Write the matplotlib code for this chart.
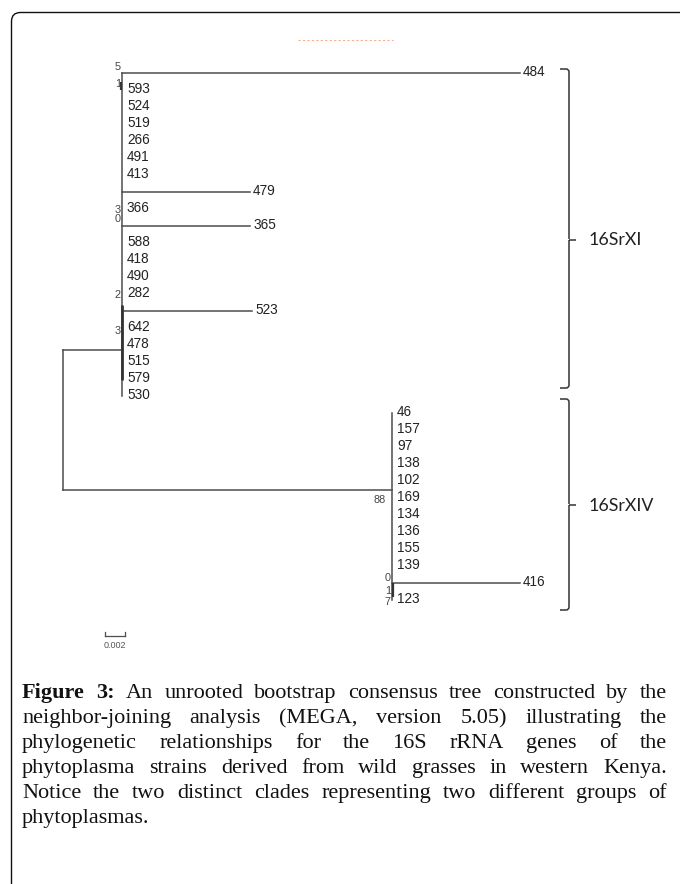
import matplotlib
matplotlib.use("Agg")
import matplotlib.pyplot as plt
from matplotlib.path import Path
from matplotlib.patches import PathPatch

# ---------------- data ----------------
xi_leaves = ['484', '593', '524', '519', '266', '491', '413', '479', '366', '365',
             '588', '418', '490', '282', '523', '642', '478', '515', '579', '530']
xi_branch = [0.0398, 0, 0, 0, 0, 0, 0, 0.0128, 0, 0.0128,
             0, 0, 0, 0, 0.0130, 0, 0, 0, 0, 0]
xiv_leaves = ['46', '157', '97', '138', '102', '169', '134', '136', '155', '139', '416', '123']
xiv_branch = [0, 0, 0, 0, 0, 0, 0, 0, 0, 0, 0.0128, 0]
xi_stem = 0.0059
xiv_stem = 0.0329
xi_node_y = 16.3
xiv_node_y = 24.5
xi_boot = ['5', '1', '3', '0', '2', '3']
xi_boot_y = [-0.35, 0.65, 8.05, 8.6, 13.05, 15.15]
xiv_boot = ['88', '0', '1', '7']
xiv_boot_y = [25.1, 29.7, 30.45, 31.1]
scale_len = 0.002
scale_label = '0.002'
groups = ['16SrXI', '16SrXIV']

caption_lines = [
    "Figure 3: An unrooted bootstrap consensus tree constructed by the",
    "neighbor-joining analysis (MEGA, version 5.05) illustrating the",
    "phylogenetic relationships for the 16S rRNA genes of the",
    "phytoplasma strains derived from wild grasses in western Kenya.",
    "Notice the two distinct clades representing two different groups of",
    "phytoplasmas.",
]

# ---------------- figure ----------------
W, H = 680, 884
fig = plt.figure(figsize=(W / 100, H / 100), dpi=100)
ov = fig.add_axes([0, 0, 1, 1])
ov.set_xlim(0, W)
ov.set_ylim(H, 0)
ov.axis('off')

PX = 0.0001           # tree units per pixel
ROOT_PX = 63          # pixel x of root
Y0_PX, DY_PX = 73, 17  # pixel y of leaf 0 and leaf spacing
tr = fig.add_axes([0, 0, 1, 1])
tr.set_xlim(-ROOT_PX * PX, (W - ROOT_PX) * PX)
tr.set_ylim((H - Y0_PX) / DY_PX, -Y0_PX / DY_PX)
tr.axis('off')
tr.patch.set_alpha(0)

lc = '#4d4d4d'
lw = 1.1
lab_c = '#222222'
lab_kw = dict(fontsize=9.8, family='Liberation Sans', color=lab_c, va='baseline')
dy_lab = 0.2

# root
tr.plot([0, 0], [xi_node_y, xiv_node_y], color=lc, lw=lw)
tr.plot([0, xi_stem], [xi_node_y, xi_node_y], color=lc, lw=lw)
tr.plot([0, xiv_stem], [xiv_node_y, xiv_node_y], color=lc, lw=lw)

def draw_clade(names, branches, stem, y_start):
    ys = [y_start + i for i in range(len(names))]
    tr.plot([stem, stem], [ys[0], ys[-1]], color=lc, lw=lw)
    for n, b, y in zip(names, branches, ys):
        if b > 0:
            tr.plot([stem, stem + b], [y, y], color=lc, lw=lw)
            tr.text(stem + b + 3 * PX, y + dy_lab, n, ha='left', **lab_kw)
        else:
            tr.text(stem + 5 * PX, y + dy_lab, n, ha='left', **lab_kw)
    return ys

draw_clade(xi_leaves, xi_branch, xi_stem, 0)
draw_clade(xiv_leaves, xiv_branch, xiv_stem, len(xi_leaves))

# thicker internal segments (short internal branches)
tr.plot([xi_stem, xi_stem], [13.65, 18.05], color='#333333', lw=2.0, solid_capstyle='butt')
tr.plot([xi_stem - 1 * PX, xi_stem - 1 * PX], [0.5, 1.0], color='#333333', lw=1.6, solid_capstyle='butt')
tr.plot([xiv_stem + 1 * PX, xiv_stem + 1 * PX], [30.0, 30.8], color='#333333', lw=1.6, solid_capstyle='butt')

boot_kw = dict(fontsize=7.8, family='Liberation Sans', color='#444444', va='center', ha='right')
for b, y in zip(xi_boot, xi_boot_y):
    tr.text(xi_stem - 1 * PX, y, b, **boot_kw)
for i, (b, y) in enumerate(zip(xiv_boot, xiv_boot_y)):
    tr.text(xiv_stem - (6 if i == 0 else 1) * PX, y, b, **boot_kw)

# scale bar
sx0 = 42 * PX
sy = (636 - Y0_PX) / DY_PX
tr.plot([sx0, sx0 + scale_len], [sy, sy], color=lc, lw=0.9)
for xx in (sx0, sx0 + scale_len):
    tr.plot([xx, xx], [sy, sy - 0.25], color=lc, lw=0.9)
tr.text(sx0 + scale_len / 2, sy + 0.55, scale_label, fontsize=6.5, family='Liberation Sans',
        color='#555555', ha='center', va='center')

# ---------------- brackets (pixel coords) ----------------
def bracket(top, bot, mid, x=569, xl=560, xt=576):
    r = 3
    verts = [(xl, top), (x - r, top), (x, top), (x, top + r), (x, mid - 1),
             (x, mid), (xt, mid), (x, mid), (x, mid + 1),
             (x, bot - r), (x, bot), (x - r, bot), (xl, bot)]
    codes = [Path.MOVETO, Path.LINETO, Path.CURVE3, Path.CURVE3, Path.LINETO,
             Path.MOVETO, Path.LINETO, Path.MOVETO, Path.LINETO,
             Path.LINETO, Path.CURVE3, Path.CURVE3, Path.LINETO]
    ov.add_patch(PathPatch(Path(verts, codes), fill=False, ec='#333333', lw=1.1))

bracket(69, 388, 240)
bracket(399, 610, 505)
grp_kw = dict(fontsize=12.8, family='Lato', color='#222222', ha='left', va='center')
ov.text(589, 240, groups[0], **grp_kw)
ov.text(589, 506, groups[1], **grp_kw)

# ---------------- frame ----------------
rr = 9
fx, fy = 11.5, 12.5
frame = Path([(fx, H + 5), (fx, fy + rr), (fx, fy), (fx + rr, fy), (W + 5, fy)],
             [Path.MOVETO, Path.LINETO, Path.CURVE3, Path.CURVE3, Path.LINETO])
ov.add_patch(PathPatch(frame, fill=False, ec='#111111', lw=1.0))
# faint dotted line at top
ov.plot([298, 393], [40, 40], color='#f4b090', lw=0.8, ls=(0, (2, 2)))

# ---------------- caption (justified) ----------------
fig.canvas.draw()
rend = fig.canvas.get_renderer()
cap_font = dict(family='Liberation Serif', fontsize=16, color='#111111', va='baseline')
left, right = 22, 667
base0, lstep = 698, 25

def word_width(w, bold):
    t = ov.text(0, 0, w, fontweight='bold' if bold else 'normal', **cap_font)
    bb = t.get_window_extent(rend)
    t.remove()
    return bb.width

space_w = word_width('a b', False) - word_width('ab', False)
for li, line in enumerate(caption_lines):
    words = line.split(' ')
    bolds = [li == 0 and k < 2 for k in range(len(words))]
    widths = [word_width(w, b) for w, b in zip(words, bolds)]
    justify = li < len(caption_lines) - 1
    if justify and len(words) > 1:
        gap = (right - left - sum(widths)) / (len(words) - 1)
    else:
        gap = space_w
    x = left
    y = base0 + li * lstep
    for w, b, wd in zip(words, bolds, widths):
        ov.text(x, y, w, fontweight='bold' if b else 'normal', **cap_font)
        x += wd + gap

fig.savefig('out.png', dpi=100)
